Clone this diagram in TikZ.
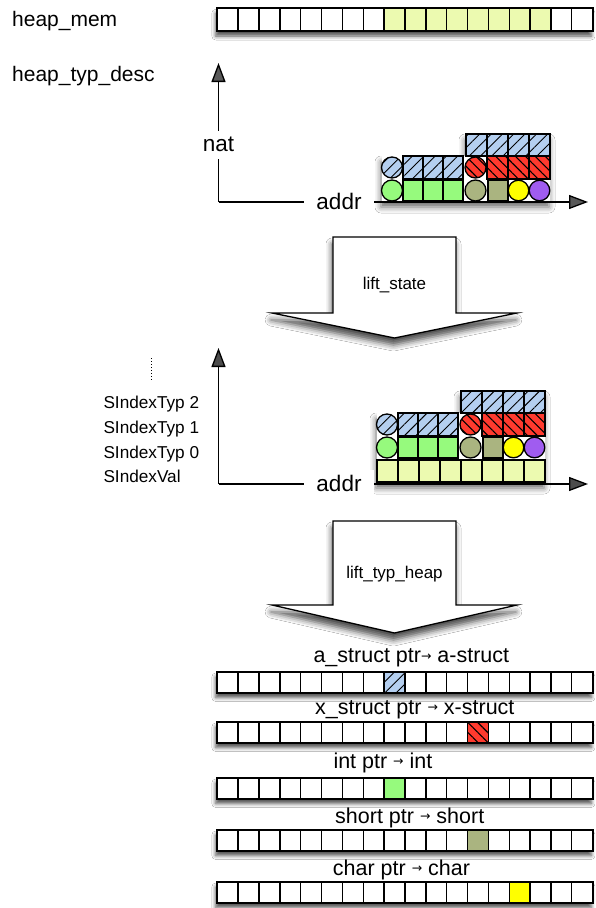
\documentclass[tikz,border=0pt]{standalone}
\usepackage{fontspec}
\setmainfont{Liberation Sans}
\newfontfamily\arrfont{DejaVu Sans}
\usetikzlibrary{arrows.meta,patterns.meta,shadows.blur}
\definecolor{pblue}{RGB}{180,207,240}
\definecolor{pred}{RGB}{255,58,46}
\definecolor{pgreen}{RGB}{150,250,125}
\definecolor{polive}{RGB}{170,180,128}
\definecolor{pyel}{RGB}{255,255,0}
\definecolor{ppurple}{RGB}{160,92,240}
\definecolor{pmem}{RGB}{236,250,176}
\newcommand\sarr{{\arrfont\fontsize{12.5}{12}\selectfont\raisebox{2.4pt}{→}}}
\tikzset{
  lab/.style={font=\fontsize{21}{25}\selectfont,inner sep=0pt},
  blab/.style={font=\fontsize{21.5}{25}\selectfont,inner sep=0pt,anchor=base west},
  slab/.style={font=\fontsize{17.2}{20}\selectfont,inner sep=0pt,anchor=base west},
  axlab/.style={font=\fontsize{22.5}{26}\selectfont,fill=white,inner xsep=12pt,inner ysep=7pt,text height=14pt,text depth=0pt},
  liftlab/.style={font=\fontsize{17}{20}\selectfont,inner sep=0pt,text height=12pt,text depth=0pt},
  axisline/.style={line width=1.3pt,-{Triangle[length=19pt,width=14pt]}},
  cell/.style={draw=black,line width=1.4pt,fill=white},
  memfill/.style={draw=black,line width=1.4pt,fill=pmem},
  memshadow/.style={fill=white,blur shadow={shadow xshift=-1.5pt,shadow yshift=-5pt,shadow blur radius=4pt,shadow opacity=70}},
  chartshadow/.style={fill=white,blur shadow={shadow xshift=-1pt,shadow yshift=-6pt,shadow blur radius=6pt,shadow opacity=60}},
  bigarr/.style={draw=black,line width=1.3pt,fill=white,blur shadow={shadow xshift=-1pt,shadow yshift=-7pt,shadow blur radius=6pt,shadow opacity=70}},
  sblue/.style={fill=pblue,postaction={pattern={Lines[angle=45,distance=8pt,line width=0.9pt]},pattern color=black},postaction={draw=black,line width=1.3pt}},
  sred/.style={fill=pred,postaction={pattern={Lines[angle=-45,distance=7pt,line width=1.1pt]},pattern color=black},postaction={draw=black,line width=1.3pt}},
  sgreen/.style={draw=black,line width=1.3pt,fill=pgreen},
  solive/.style={draw=black,line width=1.3pt,fill=polive},
  syel/.style={draw=black,line width=1.3pt,fill=pyel},
  spurple/.style={draw=black,line width=1.3pt,fill=ppurple},
}
\newcommand\memrow[2]{%
  \path[memshadow] (217.3,#1) rectangle (592.6,#2);
  \foreach \i in {0,...,17}{\draw[cell] ({217.3+20.85*\i},#1) rectangle ({217.3+20.85*(\i+1)},#2);}%
}
\newcommand\memcell[4]{\path[#4] ({217.3+20.85*#1},#2) rectangle ({217.3+20.85*(#1+1)},#3);}
\newcommand\memborder[2]{\draw[line width=2pt] (217.3,#1) rectangle (592.6,#2);}
\newcommand\chartshapes{%
  \path[sblue] (387,424.5) circle[radius=10.5];
  \path[sblue] (398,413) rectangle (418,436);
  \path[sblue] (418,413) rectangle (438,436);
  \path[sblue] (438,413) rectangle (458,436);
  \path[sblue] (461,391) rectangle (482,413);
  \path[sblue] (482,391) rectangle (503,413);
  \path[sblue] (503,391) rectangle (524,413);
  \path[sblue] (524,391) rectangle (545,413);
  \path[sred] (470.5,424.5) circle[radius=10.5];
  \path[sred] (482,413) rectangle (503,436);
  \path[sred] (503,413) rectangle (524,436);
  \path[sred] (524,413) rectangle (545,436);
  \path[sgreen] (387,447.5) circle[radius=10.5];
  \path[sgreen] (398,437) rectangle (418,458);
  \path[sgreen] (418,437) rectangle (438,458);
  \path[sgreen] (438,437) rectangle (458,458);
  \path[solive] (470.5,447.5) circle[radius=10.5];
  \path[solive] (483,437) rectangle (503,458);
  \path[syel] (513.5,447.5) circle[radius=10.3];
  \path[spurple] (534.5,447.5) circle[radius=10.3];
}
\begin{document}
\begin{tikzpicture}[x=1pt,y=-1pt]
\useasboundingbox (0,0) rectangle (595,908);
\fill[white] (0,0) rectangle (595,908);

% top labels
\node[lab,anchor=base west] (hm) at (12,26) {heap\_mem};
\node[lab,anchor=base west] (htd) at (12,81.7) {heap\_typ\_desc};

% heap_mem row
\memrow{8.3}{31}
\foreach \i in {8,...,15}{\memcell{\i}{8.3}{31}{memfill}}
\memborder{8.3}{31}

% chart 1
\begin{scope}[shift={(5,-257)}]
  \path[chartshadow] (377,458) -- (545,458) -- (545,391) -- (461,391) -- (461,413) -- (377,413) -- cycle;
\end{scope}
\coordinate (o1) at (218.5,202);
\coordinate (ya1) at (218.5,63);
\coordinate (xa1) at (588,202);
\draw[axisline] (o1) -- (ya1);
\draw[axisline] (o1) -- (xa1);
\node[axlab] (nat) at (218.5,144.5) {nat};
\node[axlab] (addr1) at (339,202) {addr};
\begin{scope}[shift={(5,-257)}]
  \chartshapes
\end{scope}

% arrow 1
\path[bigarr] (333,237) -- (456,237) -- (456,313) -- (517,313) -- (394.5,338) -- (272,313) -- (333,313) -- cycle;
\node[liftlab] (ls) at (394.5,283) {lift\_state};

% chart 2
\path[chartshadow] (377,482) -- (545,482) -- (545,391) -- (461,391) -- (461,413) -- (377,413) -- cycle;
\coordinate (o2) at (218.5,484);
\coordinate (ya2) at (218.5,348);
\coordinate (xa2) at (588,484);
\draw[axisline] (o2) -- (ya2);
\draw[axisline] (o2) -- (xa2);
\node[axlab] (addr2) at (339,484) {addr};
\foreach \i in {0,...,7}{\draw[memfill] ({377+21*\i},460) rectangle ({377+21*(\i+1)},482);}
\chartshapes

\coordinate (dt1) at (151.7,358);
\coordinate (dt2) at (151.7,380);
\draw[line width=1.3pt,dash pattern=on 1.2pt off 1.8pt] (dt1) -- (dt2);
\node[slab] (s2) at (103.3,408) {SIndexTyp 2};
\node[slab] (s1) at (103.3,433) {SIndexTyp 1};
\node[slab] (s0) at (103.3,458) {SIndexTyp 0};
\node[slab] (sv) at (103.3,482) {SIndexVal};

% arrow 2
\path[bigarr] (333,521) -- (456,521) -- (456,605) -- (517,605) -- (394.5,633) -- (272,605) -- (333,605) -- cycle;
\node[liftlab] (lth) at (394.5,572.5) {lift\_typ\_heap};

% bottom rows
\node[blab] (t1) at (313.3,662.7) {a\_struct ptr\sarr{} a-struct};
\memrow{672}{692.5}
\memcell{8}{672}{692.5}{sblue}
\memborder{672}{692.5}

\node[blab] (t2) at (315,714) {x\_struct ptr \sarr{} x-struct};
\memrow{722}{742.5}
\memcell{12}{722}{742.5}{sred}
\memborder{722}{742.5}

\node[blab] (t3) at (333.3,768.3) {int ptr \sarr{} int};
\memrow{778}{798.5}
\memcell{8}{778}{798.5}{sgreen}
\memborder{778}{798.5}

\node[blab] (t4) at (335,823.3) {short ptr \sarr{} short};
\memrow{830}{850.5}
\memcell{12}{830}{850.5}{solive}
\memborder{830}{850.5}

\node[blab] (t5) at (332.7,875) {char ptr \sarr{} char};
\memrow{882}{902.5}
\memcell{14}{882}{902.5}{syel}
\memborder{882}{902.5}
\end{tikzpicture}
\end{document}
